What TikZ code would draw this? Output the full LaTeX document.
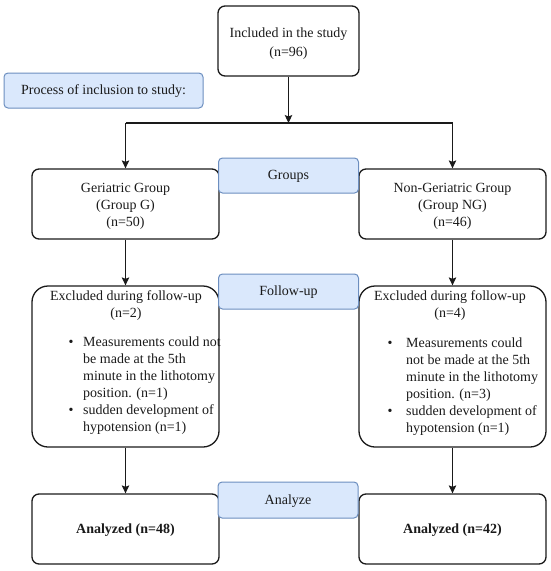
\documentclass[tikz,border=0pt]{standalone}
\usepackage{fontspec}
\setmainfont{Liberation Serif}
\usetikzlibrary{arrows.meta}
\definecolor{bluefill}{HTML}{DAE8FC}
\definecolor{bluedraw}{HTML}{6C8EBF}
\definecolor{ink}{HTML}{1A1A1A}
\begin{document}
\begin{tikzpicture}[x=1pt,y=-1pt,
  font=\fontsize{14}{17}\selectfont,
  box/.style={draw=ink, line width=1.3pt, rounded corners=7pt, inner sep=0pt},
  bigbox/.style={box, rounded corners=16pt},
  tag/.style={draw=bluedraw, fill=bluefill, line width=1pt, rounded corners=4pt, inner sep=0pt, text=ink, text height=11pt, text depth=3pt},
  txt/.style={inner sep=0pt, text=ink, anchor=base},
  link/.style={draw=ink, line width=1.1pt},
  arr/.style={link, -{Stealth[length=8pt,width=7.5pt,inset=1.5pt]}},
]
\useasboundingbox (0,0) rectangle (550,571);

% main boxes
\node[box, minimum width=141pt, minimum height=70pt] (inc) at (288.5,41) {};
\node[box, minimum width=187pt, minimum height=70pt] (gg) at (125.5,204) {};
\node[box, minimum width=187pt, minimum height=70pt] (ng) at (452.5,204) {};
\node[bigbox, minimum width=187pt, minimum height=161pt] (exg) at (125.5,366.5) {};
\node[bigbox, minimum width=187pt, minimum height=161pt] (exng) at (452.5,366.5) {};
\node[box, minimum width=187pt, minimum height=70pt] (ag) at (125.5,529) {};
\node[box, minimum width=187pt, minimum height=70pt] (ang) at (452.5,529) {};

% box texts
\node[txt] (inct) at (288.5,37.5) {\begin{tabular}[t]{@{}c@{}}Included in the study\\[2pt](n=96)\end{tabular}};
\node[txt] (ggt) at (125.5,192.5) {\begin{tabular}[t]{@{}c@{}}Geriatric Group\\(Group G)\\(n=50)\end{tabular}};
\node[txt] (ngt) at (452.5,192.5) {\begin{tabular}[t]{@{}c@{}}Non-Geriatric Group\\(Group NG)\\(n=46)\end{tabular}};
\node[txt] (agt) at (125.5,533.5) {\textbf{Analyzed (n=48)}};
\node[txt] (angt) at (452.5,533.5) {\textbf{Analyzed (n=42)}};

% exclusion texts
\node[txt] (exgh) at (126,300) {\begin{tabular}[t]{@{}c@{}}Excluded during follow-up\\(n=2)\end{tabular}};
\node[txt, anchor=base west] (exgb) at (68.5,346) {\begin{tabular}[t]{@{}l@{}l@{}}
\makebox[14.5pt][l]{\textbullet} & Measurements could not\\
 & be made at the 5th\\
 & minute in the lithotomy\\
 & position. (n=1)\\
\makebox[14.5pt][l]{\textbullet} & sudden development of\\
 & hypotension (n=1)
\end{tabular}};
\node[txt] (exngh) at (450,300) {\begin{tabular}[t]{@{}c@{}}Excluded during follow-up\\(n=4)\end{tabular}};
\node[txt, anchor=base west] (exngb) at (387.5,347) {\begin{tabular}[t]{@{}l@{}l@{}}
\makebox[18.5pt][l]{\textbullet} & Measurements could\\
 & not be made at the 5th\\
 & minute in the lithotomy\\
 & position. (n=3)\\
\makebox[18.5pt][l]{\textbullet} & sudden development of\\
 & hypotension (n=1)
\end{tabular}};

% connectors
\coordinate (j) at (288.5,123);
\coordinate (jl) at (125.5,123);
\coordinate (jr) at (452.5,123);
\draw[arr] (inc) -- (j);
\draw[link] (jl) -- (jr);
\draw[arr] (jl) -- (gg);
\draw[arr] (jr) -- (ng);
\draw[arr] (gg) -- (exg);
\draw[arr] (ng) -- (exng);
\draw[arr] (exg) -- (ag);
\draw[arr] (exng) -- (ang);

% blue tags
\node[tag, minimum width=199pt, minimum height=35pt] (proc) at (103.5,90.5) {Process of inclusion to study:};
\node[tag, minimum width=140pt, minimum height=35pt] (groups) at (288.5,175.5) {Groups};
\node[tag, minimum width=140pt, minimum height=35pt] (fu) at (288.5,291.5) {Follow-up};
\node[tag, minimum width=140pt, minimum height=36pt] (an) at (288,500) {Analyze};
\end{tikzpicture}
\end{document}
